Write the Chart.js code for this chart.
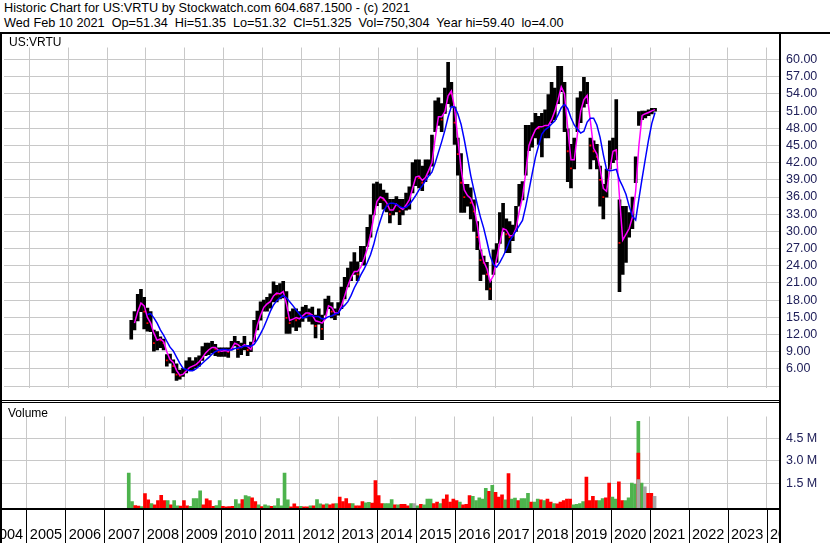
<!DOCTYPE html>
<html>
<head>
<meta charset="utf-8">
<script src="https://cdn.jsdelivr.net/npm/chart.js@4.4.1/dist/chart.umd.min.js"></script>
<style>
html, body { margin: 0; padding: 0; background: #fff; }
#wrap { position: relative; width: 830px; height: 543px; overflow: hidden; font-family: 'Liberation Sans', Arial, sans-serif; }
.txt { position: absolute; font-size: 12px; line-height: 14px; color: #000; white-space: pre; }
.head { font-size: 12.7px; }
.ln { position: absolute; background: #000; }
canvas { position: absolute; left: 0; }
</style>
</head>
<body>
<div id="wrap">
  <div class="txt head" style="left:4px;top:1px">Historic Chart for US:VRTU by Stockwatch.com 604.687.1500 - (c) 2021</div>
  <div class="txt head" style="left:4px;top:16px">Wed Feb 10 2021  Op=51.34  Hi=51.35  Lo=51.32  Cl=51.325  Vol=750,304  Year hi=59.40  lo=4.00</div>
  <canvas id="priceChart" width="830" height="367" style="top:34px"></canvas>
  <canvas id="volChart" width="830" height="140" style="top:403px"></canvas>
  <div class="txt" style="left:9px;top:35px">US:VRTU</div>
  <div class="txt" style="left:8px;top:406px">Volume</div>
  <!-- panel frame -->
  <div class="ln" style="left:0;top:32px;width:830px;height:2px"></div>
  <div class="ln" style="left:0;top:32px;width:2px;height:511px"></div>
  <div class="ln" style="left:779px;top:32px;width:2px;height:511px"></div>
  <div class="ln" style="left:0;top:400px;width:781px;height:1px"></div>
  <div class="ln" style="left:0;top:402px;width:781px;height:1px"></div>
  <div class="ln" style="left:0;top:508px;width:781px;height:2px"></div>
</div>
<script>
// Monthly bars, Aug 2007 .. Feb 2021
const startYear = 2007;
const startMonth = 8;

const lows = [
  11.2, 12.8, 14.4, 16, 13,
  12.6, 12.5, 9.1, 9.3, 9.7, 9.3, 6.5, 7, 5.3, 4.0, 4.2, 4.7,
  5.3, 5.8, 5.8, 6.2, 6.5, 7.5, 8.3, 8.5, 8.8, 8.3, 8.2, 8.2,
  8.2, 8, 9.3, 10, 8, 8.5, 9.3, 8.3, 9, 10.7, 12.8, 14.5,
  16.1, 16.1, 16.6, 17.7, 17.7, 18.2, 18.4, 12.2, 12.2, 13.3, 12.7, 13.3,
  14.3, 14.9, 14.3, 13.8, 11.4, 13.8, 11.1, 15.4, 16.5, 14.9, 14.6, 15.4,
  16.5, 18.2, 20.3, 21.4, 22.5, 21.4, 24.7, 24.1, 27.4, 29, 32.9, 34.5,
  35, 33.9, 33.4, 31.5, 32.9, 33.4, 31.2, 32.9, 33.7, 33.9, 36.7, 38,
  37.6, 37.1, 38.7, 39.8, 41.4, 47.4, 48.5, 47.4, 50.6, 52.3, 51.7, 45.2,
  39.8, 33.3, 33.3, 34.4, 32.2, 30, 26.8, 21.4, 22.5, 19.8, 18.1, 22.5,
  24.6, 27.9, 30, 26.3, 26.3, 28.4, 30, 34.4, 35.5, 39.8, 44.1, 44.7,
  46.3, 45.2, 43, 46.3, 46.3, 49, 49.5, 52.3, 54.4, 47.4, 38.7, 37.6,
  40.9, 47.4, 49, 51.7, 52.3, 40.9, 42.5, 40.9, 34.4, 32.2, 36, 40.9,
  42, 42.5, 19.5, 22.5, 24.6, 29, 30.5, 38.5, 48.5, 49.5, 49.8, 50.2,
  50.5, 51
];

const highs = [
  14.5, 16, 19, 19.9, 18.5,
  16.6, 16, 12.8, 12.5, 11.6, 11.2, 8.5, 8.6, 7.6, 6.9, 5.8, 6.1,
  7.4, 8, 7.4, 8, 8.3, 9.9, 10.5, 10.5, 10.8, 10.3, 9.7, 9.7,
  9.7, 9.7, 10.8, 11.7, 10.8, 10.5, 11.7, 10.1, 10.7, 14.5, 16.1, 17.7,
  18, 18.5, 19.1, 21.2, 20.6, 20.9, 21.3, 19.5, 16, 16.5, 16.5, 16,
  16.8, 17.1, 16.5, 16.8, 15.4, 16.5, 15.4, 18.2, 18.7, 17.6, 16.5, 17.6,
  20.3, 22, 23.6, 24.7, 26.3, 24.7, 27.4, 27.4, 30.7, 32.9, 38.3, 38.6,
  38.3, 37.2, 36.7, 35.6, 35.6, 36.1, 35.6, 35.6, 36.7, 37.8, 42, 42.5,
  42.5, 41.4, 42.5, 42.5, 46.8, 52.8, 53.3, 52.3, 55, 59.5, 56, 51.7,
  46.3, 43.6, 38.2, 38.2, 37.6, 35.5, 31.7, 26.8, 25.7, 24.6, 21.4, 26.8,
  27.9, 33.3, 34.9, 32.2, 31.7, 31.1, 34.4, 38.2, 38.7, 48.5, 48.5, 49,
  50.6, 50.1, 50.6, 51.2, 53.9, 56, 55, 58.8, 58.8, 56, 47.9, 45.2,
  46.3, 53.3, 54.4, 56.9, 56, 46.3, 45.8, 45.2, 41.4, 38.2, 40.9, 45.8,
  46.3, 53, 35.5, 34.4, 34.4, 33.3, 36, 43, 50.9, 51, 51, 51.2,
  51.5, 51.5
];

const closes = [
  13, 15, 17, 18, 16,
  14, 14, 10.5, 11.5, 11, 10.5, 7.5, 7.8, 6.5, 5, 4.8, 5.3,
  6, 6.5, 6.5, 7, 7.5, 8.4, 9.2, 9.5, 10, 9.5, 9, 9.2,
  9.2, 9, 10, 11, 9.5, 10, 10.5, 9.3, 9.5, 12.8, 14.5, 16.3,
  17.2, 17.5, 18, 19.5, 19, 19.2, 19.8, 14.9, 14, 15.4, 14.5, 15,
  15.5, 16, 15.5, 15.3, 13.5, 15, 13, 16.5, 17.5, 16, 15.5, 16,
  18, 19.5, 21.5, 22.5, 23.5, 22.5, 25, 25.5, 28.5, 30.5, 34.5, 36,
  36, 35.5, 34.5, 33, 34.5, 35, 33.5, 34.2, 35, 36, 39, 40,
  39.3, 38.5, 40.3, 41, 43, 49.5, 50.5, 49.5, 52.3, 55, 54, 49,
  43.5, 38.5, 36, 36.5, 35, 33.5, 29, 25, 24.5, 22.5, 20, 24.5,
  26, 30, 31, 29.5, 29, 29.5, 31.5, 35.5, 36.5, 44, 46, 47,
  48.5, 48, 48.5, 48.5, 48.5, 50.5, 51.5, 54.5, 56, 52, 44, 41,
  44, 50, 52, 54, 53.5, 45, 44, 43, 39, 36, 38, 43.5,
  44.5, 44, 28, 29, 30, 31, 34, 40, 50, 50.5, 50.6, 50.9,
  51.2, 51.33
];

// volume in millions, g = up, r = down, n = unchanged
const volumes = [
  2.19, 0.30, 0.03, 0.0, -0.03,
  0.82, 0.41, 0.17, 0.08, 0.36, 0.71, 0.36, 0.36, 0.08, 0.36, 0.02, 0.0,
  0.36, 0.02, -0.02, 0.5, 0.5, 1.0, 0.08, 0.47, 0.36, -0.02, 0.03, 0.36,
  -0.02, -0.05, -0.03, -0.02, 0.42, 0.14, 0.42, 0.69, 0.62, 0.55, 0.30, 0.08,
  -0.03, 0.08, 0.02, -0.02, 0.02, 0.5, 0.02, 2.19, 0.41, -0.05, 0.14, -0.03,
  -0.02, -0.05, -0.05, 0.02, 0.02, 0.42, 0.14, 0.08, 0.14, 0.08, 0.14, 0.17,
  0.59, 0.30, 0.5, 0.17, 0.17, 0.02, 0.02, 0.30, 0.21, 0.24, 0.19, 1.69,
  0.69, 0.17, 0.17, 0.17, 0.42, 0.08, 0.08, 0.11, 0.11, 0.02, 0.17, 0.17,
  0.02, 0.11, 0.08, 0.46, 0.46, 0.17, 0.27, 0.17, 0.46, 0.75, 0.27, 0.46,
  0.36, 0.27, 0.08, 0.11, 0.69, 0.65, 0.36, 0.55, 0.46, 1.17, 0.97, 1.37,
  0.9, 0.59, 0.75, 0.41, 2.15, 0.46, 0.52, 0.36, 0.5, 0.5, 0.84, 0.27,
  0.27, 0.46, 0.41, 0.36, 0.46, 0.27, 0.17, 0.14, 0.27, 0.36, 0.46, 0.46,
  0.08, 0.11, 0.17, 0.30, 1.92, 0.36, 0.65, 0.36, 0.36, 0.5, 0.55, 1.52,
  0.59, 0.46, 1.61, 0.36, 0.36, 0.55, 1.52, 1.44, 5.61, 1.52, 1.28, 0.84,
  0.84, 0.65
];
const volDir =
  'ggrrg' + 'rrgrrrrgrggr' + 'rrggggrrrrgg' + 'rrrrggrggrrg' + 'rggrgggggrrr' +
  'grrgrggrgrrg' + 'rrrrgrrrggrr' + 'rrgggrgrrrgn' + 'grgggrrgrrrr' + 'rgrrrgggggrg' +
  'rrrgrggrgggr' + 'ggrgrrgrrrrr' + 'ggggrrrrggrr' + 'ggrrggggggnr' + 'rn';

// later weeks drawn over the same month's bar
const overlayIndex = [157, 157];   // Sep 2020
const overlayVols = [3.5, 1.75];
const overlayDir = 'rn';

const yearLabels = [2004, 2005, 2006, 2007, 2008, 2009, 2010, 2011, 2012, 2013, 2014,
  2015, 2016, 2017, 2018, 2019, 2020, 2021, 2022, 2023, 2024];
const priceTicks = [3, 6, 9, 12, 15, 18, 21, 24, 27, 30, 33, 36, 39, 42, 45, 48, 51, 54, 57, 60];
const volTicks = [1.5, 3.0, 4.5];

const colors = { g: '#4db34d', r: '#ff0000', n: '#a6a6a6' };
const gridColor = '#c8c8c8';
const axisText = '#20205a';
const font = "'Liberation Sans', Arial, sans-serif";

// x range: year 2005 starts at pixel 26.5, 38.95 px per year, plot from 1 to 780
const X_MIN = 2005 - 25.5 / 38.95;
const X_MAX = 2005 + 753.5 / 38.95;
const VOL_MIN = -0.13;

const monthX = i => startYear + (startMonth - 1 + i + 0.5) / 12;

function movingAvg(arr, n) {
  return arr.map((v, i) => {
    if (i < n - 1) return null;
    let s = 0;
    for (let k = i - n + 1; k <= i; k++) s += arr[k];
    return s / n;
  });
}

const fastMA = movingAvg(closes, 2);
const slowMA = movingAvg(closes, 6);

const xScale = () => ({
  type: 'linear',
  min: X_MIN,
  max: X_MAX,
  offset: false,
  afterBuildTicks: s => { s.ticks = yearLabels.slice(1).map(v => ({ value: v })); },
  afterFit: s => { s.height = 0; },
  ticks: { display: false },
  grid: { color: gridColor, lineWidth: 1, drawTicks: false, offset: false },
  border: { display: false }
});

new Chart(document.getElementById('priceChart'), {
  type: 'bar',
  data: {
    datasets: [
      {
        type: 'line',
        data: slowMA.map((v, i) => ({ x: monthX(i), y: v })),
        borderColor: '#0000ff',
        borderWidth: 1.5,
        pointRadius: 0,
        tension: 0,
        order: 1
      },
      {
        type: 'line',
        data: fastMA.map((v, i) => ({ x: monthX(i), y: v })),
        borderColor: '#ff00ff',
        borderWidth: 1.5,
        pointRadius: 0,
        tension: 0,
        order: 2
      },
      {
        type: 'line',
        showLine: false,
        data: closes.map((v, i) => ({ x: monthX(i), y: (i > 0 && v < closes[i - 1]) ? v : null })),
        pointStyle: 'rect',
        pointRadius: 1.3,
        pointBorderWidth: 0,
        pointBackgroundColor: '#ff0000',
        order: 3
      },
      {
        data: lows.map((v, i) => ({ x: monthX(i), y: [v, highs[i]] })),
        backgroundColor: '#000',
        barThickness: 3,
        order: 4
      }
    ]
  },
  options: {
    responsive: false,
    animation: false,
    layout: { padding: { left: 1, top: 0, right: 0, bottom: 0 } },
    plugins: { legend: { display: false }, tooltip: { enabled: false } },
    scales: {
      x: xScale(),
      y: {
        position: 'right',
        min: 2.76,
        max: 62.1,
        afterBuildTicks: s => { s.ticks = priceTicks.map(v => ({ value: v })); },
        afterFit: s => { s.width = 50; },
        grid: { color: gridColor, lineWidth: 1, drawTicks: false },
        border: { display: false },
        ticks: {
          padding: 6,
          color: axisText,
          font: { family: font, size: 12.5 },
          callback: v => v < 6 ? '' : v.toFixed(2)
        }
      }
    }
  }
});

// year strip below the volume panel
const yearStrip = {
  id: 'yearStrip',
  afterDraw(chart) {
    const { ctx, chartArea } = chart;
    const x = chart.scales.x;
    const top = chartArea.bottom + 2;
    const bottom = chart.height;
    ctx.save();
    ctx.beginPath();
    ctx.rect(0, top, chartArea.right, bottom - top);
    ctx.clip();
    ctx.strokeStyle = '#000';
    ctx.lineWidth = 1;
    ctx.fillStyle = '#000';
    ctx.font = '14.5px ' + font;
    ctx.textAlign = 'center';
    yearLabels.forEach(y => {
      const px = Math.round(x.getPixelForValue(y)) + 0.5;
      ctx.beginPath();
      ctx.moveTo(px, top);
      ctx.lineTo(px, bottom);
      ctx.stroke();
      const cx = (x.getPixelForValue(y) + x.getPixelForValue(y + 1)) / 2;
      ctx.fillText(String(y), cx, bottom - 4);
    });
    ctx.restore();
  }
};

new Chart(document.getElementById('volChart'), {
  type: 'bar',
  data: {
    datasets: [
      {
        data: overlayVols.map((v, k) => ({ x: monthX(overlayIndex[k]), y: [VOL_MIN, v] })),
        backgroundColor: overlayVols.map((v, k) => colors[overlayDir[k]]),
        barThickness: 3,
        grouped: false,
        order: 1
      },
      {
        data: volumes.map((v, i) => ({ x: monthX(i), y: [VOL_MIN, v] })),
        backgroundColor: volumes.map((v, i) => colors[volDir[i]]),
        barThickness: 3,
        grouped: false,
        order: 2
      }
    ]
  },
  options: {
    responsive: false,
    animation: false,
    layout: { padding: { left: 1, top: 0, right: 0, bottom: 35 } },
    plugins: { legend: { display: false }, tooltip: { enabled: false } },
    scales: {
      x: xScale(),
      y: {
        position: 'right',
        min: VOL_MIN,
        max: VOL_MIN + 105 / 17.33,
        afterBuildTicks: s => { s.ticks = volTicks.map(v => ({ value: v })); },
        afterFit: s => { s.width = 50; },
        grid: { color: gridColor, lineWidth: 1, drawTicks: false },
        border: { display: false },
        ticks: {
          padding: 6,
          color: axisText,
          font: { family: font, size: 12.5 },
          callback: v => v.toFixed(1) + ' M'
        }
      }
    }
  },
  plugins: [yearStrip]
});
</script>
</body>
</html>
